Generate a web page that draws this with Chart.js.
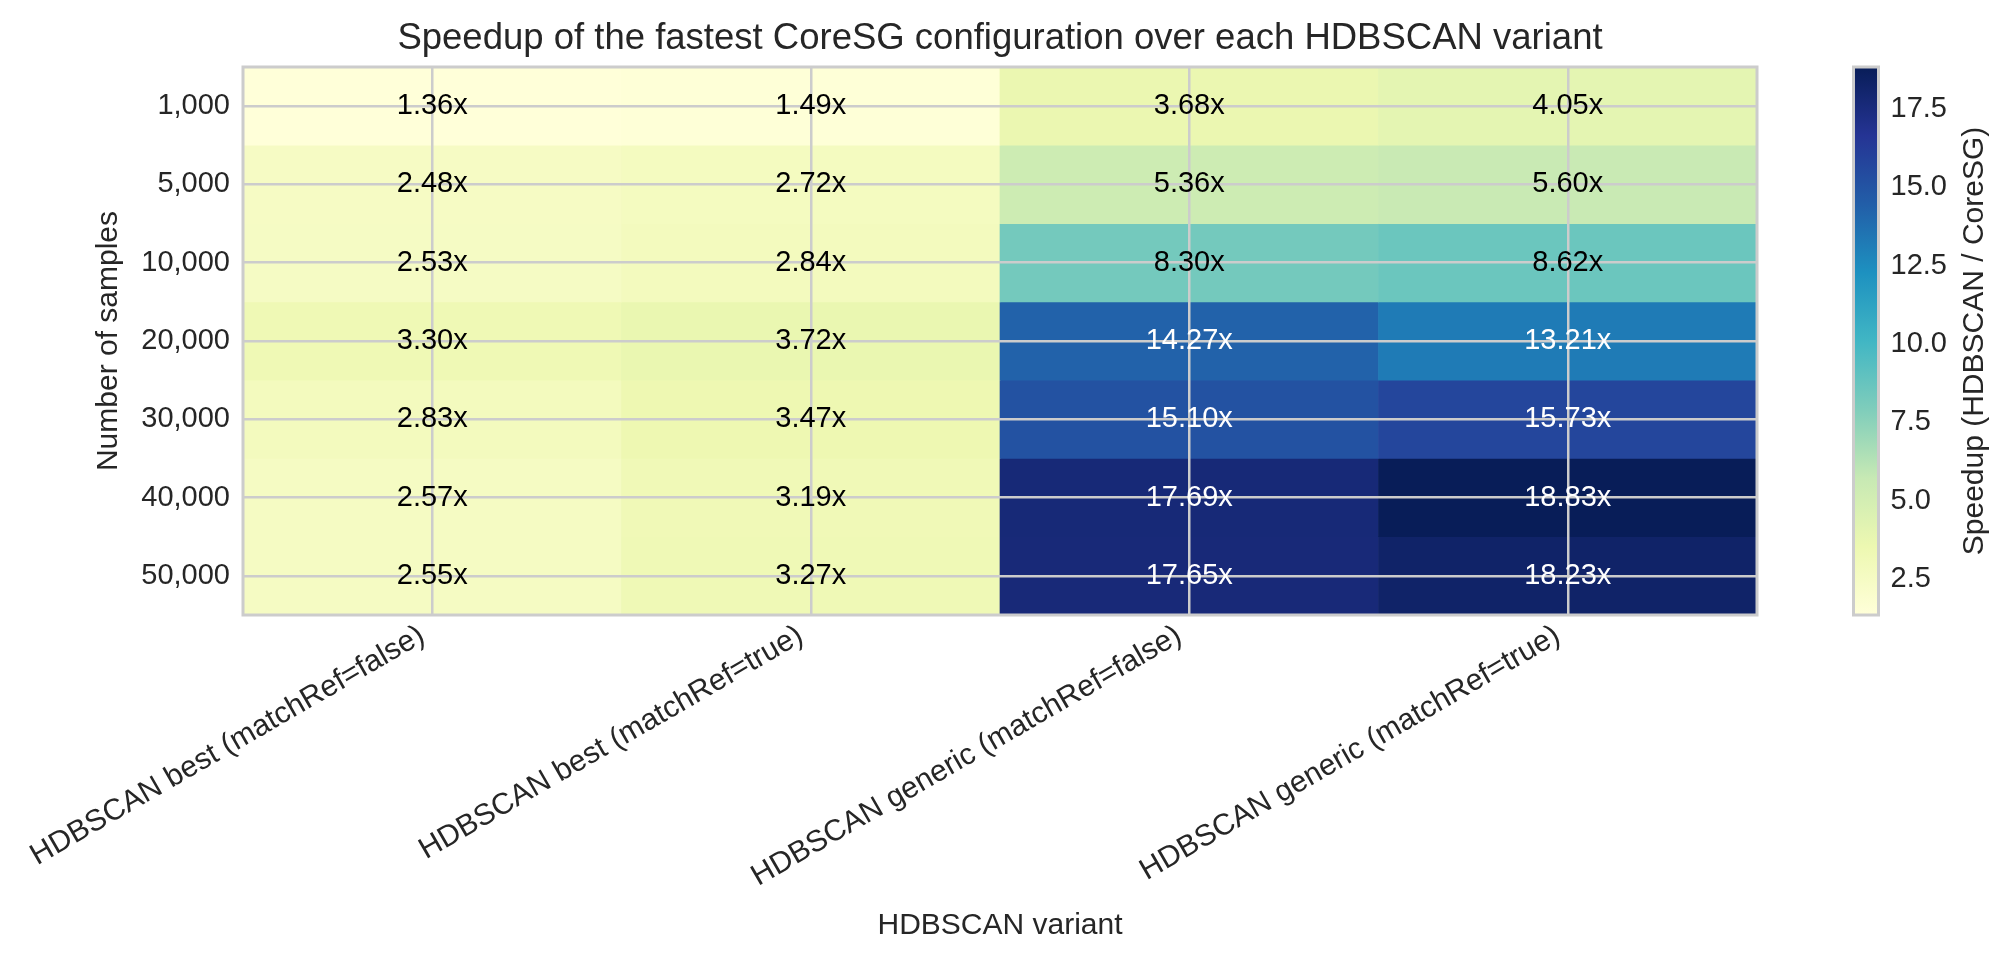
<!DOCTYPE html>
<html>
<head>
<meta charset="utf-8">
<script src="https://cdn.jsdelivr.net/npm/chart.js@4.4.1/dist/chart.umd.min.js"></script>
<style>
  html, body { margin: 0; padding: 0; background: #fff; }
  #heat { position: absolute; left: 0; top: 0; }
  #cbar { position: absolute; left: 1800px; top: 0; }
</style>
</head>
<body>
<canvas id="heat" width="1800" height="966"></canvas>
<canvas id="cbar" width="213" height="966"></canvas>
<script>
'use strict';

// rows (number of samples) and columns (HDBSCAN variant)
const samples = ['1,000', '5,000', '10,000', '20,000', '30,000', '40,000', '50,000'];
const variants = [
    'HDBSCAN best (matchRef=false)',
    'HDBSCAN best (matchRef=true)',
    'HDBSCAN generic (matchRef=false)',
    'HDBSCAN generic (matchRef=true)'
];

// speedup per column, top to bottom
const bestFalse = [1.36, 2.48, 2.53, 3.30, 2.83, 2.57, 2.55];
const bestTrue = [1.49, 2.72, 2.84, 3.72, 3.47, 3.19, 3.27];
const genericFalse = [3.68, 5.36, 8.30, 14.27, 15.10, 17.69, 17.65];
const genericTrue = [4.05, 5.60, 8.62, 13.21, 15.73, 18.83, 18.23];

const cbTicks = [2.5, 5.0, 7.5, 10.0, 12.5, 15.0, 17.5];

const titleText = 'Speedup of the fastest CoreSG configuration over each HDBSCAN variant';
const cbLabelText = 'Speedup (HDBSCAN / CoreSG)';

const speedup = samples.map((s, i) => [bestFalse[i], bestTrue[i], genericFalse[i], genericTrue[i]]);
const vmin = Math.min(...speedup.flat());
const vmax = Math.max(...speedup.flat());

const FONT = '"Liberation Sans", Arial, sans-serif';
const TXT = '#262626';
const GRID = '#cccccc';

// YlGnBu
const ylgnbu = ['#ffffd9', '#edf8b1', '#c7e9b4', '#7fcdbb', '#41b6c4', '#1d91c0', '#225ea8', '#253494', '#081d58'];

function hexRgb(h) {
    return [1, 3, 5].map(i => parseInt(h.substr(i, 2), 16));
}

function cmap(v) {
    let t = (v - vmin) / (vmax - vmin);
    t = Math.max(0, Math.min(1, t)) * (ylgnbu.length - 1);
    let i = Math.min(Math.floor(t), ylgnbu.length - 2);
    let f = t - i;
    let a = hexRgb(ylgnbu[i]), b = hexRgb(ylgnbu[i + 1]);
    let c = a.map((x, k) => Math.round(x + (b[k] - x) * f));
    return 'rgb(' + c.join(',') + ')';
}

const frame = {
    id: 'frame',
    afterDraw(chart) {
        const a = chart.chartArea, ctx = chart.ctx;
        ctx.save();
        ctx.strokeStyle = GRID;
        ctx.lineWidth = 3;
        ctx.strokeRect(a.left, a.top, a.right - a.left, a.bottom - a.top);
        ctx.restore();
    }
};

// value labels go on top of the grid
const cellText = {
    id: 'cellText',
    afterDraw(chart) {
        const ctx = chart.ctx;
        ctx.save();
        ctx.font = '29px ' + FONT;
        ctx.textAlign = 'center';
        ctx.textBaseline = 'middle';
        chart.data.datasets.forEach((ds, r) => {
            chart.getDatasetMeta(r).data.forEach((bar, c) => {
                let v = speedup[r][c];
                let p = bar.getCenterPoint();
                ctx.fillStyle = v > (vmin + vmax) / 2 ? '#ffffff' : '#000000';
                ctx.fillText(v.toFixed(2) + 'x', p.x, p.y);
            });
        });
        ctx.restore();
    }
};

const topTitle = {
    id: 'topTitle',
    afterDraw(chart) {
        const a = chart.chartArea, ctx = chart.ctx;
        ctx.save();
        ctx.font = '36.5px ' + FONT;
        ctx.fillStyle = TXT;
        ctx.textAlign = 'center';
        ctx.textBaseline = 'alphabetic';
        ctx.fillText(titleText, (a.left + a.right) / 2, a.top - 18);
        ctx.restore();
    }
};

const cbLabel = {
    id: 'cbLabel',
    afterDraw(chart) {
        const a = chart.chartArea, ctx = chart.ctx;
        ctx.save();
        ctx.font = '30px ' + FONT;
        ctx.fillStyle = TXT;
        ctx.textAlign = 'center';
        ctx.textBaseline = 'middle';
        ctx.translate(175, (a.top + a.bottom) / 2);
        ctx.rotate(-Math.PI / 2);
        ctx.fillText(cbLabelText, 0, 0);
        ctx.restore();
    }
};

new Chart(document.getElementById('heat'), {
    type: 'bar',
    data: {
        labels: variants,
        datasets: samples.map((s, r) => ({
            label: s,
            data: variants.map(() => [r - 0.5, r + 0.5]),
            backgroundColor: speedup[r].map(cmap),
            borderWidth: 0,
            grouped: false,
            barPercentage: 1,
            categoryPercentage: 1
        }))
    },
    options: {
        responsive: false,
        animation: false,
        devicePixelRatio: 1,
        layout: { padding: { left: 87, right: 43, top: 67, bottom: 18 } },
        plugins: {
            legend: { display: false },
            tooltip: { enabled: false },
            title: { display: false }
        },
        scales: {
            x: {
                z: 1,
                grid: { offset: false, color: GRID, lineWidth: 2.5, drawTicks: false, z: 1 },
                border: { display: false },
                ticks: {
                    autoSkip: false, maxRotation: 30, minRotation: 30, padding: 3, labelOffset: -10,
                    color: TXT, font: { family: FONT, size: 30 }
                },
                title: {
                    display: true, text: 'HDBSCAN variant', color: TXT,
                    font: { family: FONT, size: 30 }
                },
                afterFit(s) { s.height = 333; }
            },
            y: {
                type: 'linear',
                reverse: true,
                min: -0.5,
                max: 6.5,
                z: 1,
                grid: { color: GRID, lineWidth: 2.5, drawTicks: false, z: 1 },
                border: { display: false },
                afterBuildTicks(s) { s.ticks = samples.map((x, i) => ({ value: i })); },
                ticks: {
                    padding: 13, color: TXT, font: { family: FONT, size: 29 },
                    callback: (v) => samples[v]
                },
                title: {
                    display: true, text: 'Number of samples', color: TXT,
                    font: { family: FONT, size: 30 }
                },
                afterFit(s) { s.width = 156; }
            }
        }
    },
    plugins: [cellText, topTitle, frame]
});

new Chart(document.getElementById('cbar'), {
    type: 'bar',
    data: {
        labels: [''],
        datasets: [{
            data: [[vmin, vmax]],
            backgroundColor: (c) => {
                const a = c.chart.chartArea;
                if (!a) return ylgnbu[0];
                const g = c.chart.ctx.createLinearGradient(0, a.bottom, 0, a.top);
                ylgnbu.forEach((col, i) => g.addColorStop(i / (ylgnbu.length - 1), col));
                return g;
            },
            borderWidth: 0,
            barPercentage: 1,
            categoryPercentage: 1
        }]
    },
    options: {
        responsive: false,
        animation: false,
        devicePixelRatio: 1,
        layout: { padding: { left: 53.5, right: 0, top: 67, bottom: 351 } },
        plugins: {
            legend: { display: false },
            tooltip: { enabled: false }
        },
        scales: {
            x: { display: false },
            y: {
                position: 'right',
                min: vmin,
                max: vmax,
                grid: { display: false, drawTicks: false },
                border: { display: false },
                afterBuildTicks(s) { s.ticks = cbTicks.map(v => ({ value: v })); },
                ticks: {
                    padding: 12, color: TXT, font: { family: FONT, size: 29 },
                    callback: (v) => v.toFixed(1)
                },
                afterFit(s) { s.width = 134.5; }
            }
        }
    },
    plugins: [frame, cbLabel]
});
</script>
</body>
</html>
